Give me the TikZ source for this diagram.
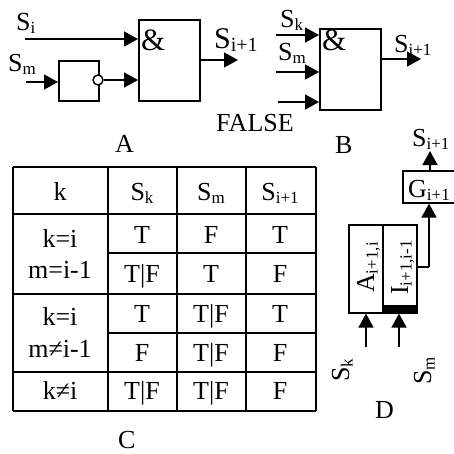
\documentclass[tikz,border=0pt]{standalone}
\usepackage{fontspec}
\setmainfont{Liberation Serif}
\usetikzlibrary{arrows.meta,calc}
\newcommand\Sbb[1]{\raisebox{-3.5pt}{\fontsize{17}{17}\selectfont #1}}
\newcommand\Sv[1]{S\Sbb{#1}}
\tikzset{
  lbl/.style={inner sep=0pt,anchor=base west,font=\fontsize{26}{26}\selectfont},
  cell/.style={inner sep=0pt,anchor=base,font=\fontsize{26}{26}\selectfont},
  amp/.style={inner sep=0pt,anchor=base west,font=\fontsize{31}{31}\selectfont},
  boxn/.style={draw=black,line width=1.6pt,inner sep=0pt,anchor=north west,fill=white},
  wire/.style={line width=1.6pt,-{Triangle[length=14pt,width=15pt]},shorten >=0pt},
  plain/.style={line width=1.6pt},
  grid/.style={line width=2pt}
}
\begin{document}
\begin{tikzpicture}[x=1pt,y=-1pt]
\useasboundingbox (0,0) rectangle (454,453);
% Part A
\node[boxn,minimum width=61pt,minimum height=81pt] (ga) at (138,19) {};
\node[boxn,minimum width=40pt,minimum height=40pt] (inv) at (58,60) {};
\node[circle,draw=black,fill=white,line width=1.4pt,minimum size=10pt,inner sep=0pt] (bub) at (98,80) {};
\coordinate (si) at (25,39);
\coordinate (sm) at (26,82);
\coordinate (aout) at (238,60);
\draw[wire] (si) -- (si -| ga.west);
\draw[wire] (sm) -- (sm -| inv.west);
\draw[wire] (bub.east) -- (bub.east -| ga.west);
\draw[wire] (aout -| ga.east) -- (aout);
\node[lbl] (tsi) at (16,30) {\Sv{i}};
\node[lbl] (tsm) at (8,71) {\Sv{m}};
\node[lbl,font=\fontsize{30}{30}\selectfont] (tso) at (214,48) {S\raisebox{-3.5pt}{\fontsize{20}{20}\selectfont i+1}};
\node[amp] (aa) at (141,50) {\&};
\node[lbl] (la) at (115,152) {A};
% Part B
\node[boxn,minimum width=61pt,minimum height=81pt] (gb) at (319,28) {};
\coordinate (b1) at (276,35);
\coordinate (b2) at (276,72);
\coordinate (b3) at (278,102);
\coordinate (bout) at (421,59);
\draw[wire] (b1) -- (b1 -| gb.west);
\draw[wire] (b2) -- (b2 -| gb.west);
\draw[wire] (b3) -- (b3 -| gb.west);
\draw[wire] (bout -| gb.east) -- (bout);
\node[lbl] (tsk) at (280,27) {\Sv{k}};
\node[lbl] (tsmb) at (278,60) {\Sv{m}};
\node[lbl] (tsob) at (394,52) {\Sv{i+1}};
\node[amp] (ab) at (322,50) {\&};
\node[lbl] (false) at (216,131) {FALSE};
\node[lbl] (lb) at (335,153) {B};
% Part C
\foreach \x in {13,108,177,246,316} \draw[grid] (\x,167) -- (\x,411);
\foreach \y in {167,214,294,372,411} \draw[grid] (13,\y) -- (316,\y);
\foreach \y in {253,333} \draw[grid] (108,\y) -- (316,\y);
\node[cell] (c0) at (60,200) {k};
\node[cell] (c1) at (142,200) {\Sv{k}};
\node[cell] (c2) at (211,200) {\Sv{m}};
\node[cell] (c3) at (280,200) {\Sv{i+1}};
\node[cell] (l1) at (60,247) {k=i};
\node[cell] (l2) at (60,278) {m=i-1};
\node[cell] (l3) at (60,325) {k=i};
\node[cell] (l4) at (60,357) {m≠i-1};
\node[cell] (l5) at (60,399) {k≠i};
\node[cell] (r11) at (142,243) {T};
\node[cell] (r12) at (211,243) {F};
\node[cell] (r13) at (280,243) {T};
\node[cell] (r21) at (142,282) {T|F};
\node[cell] (r22) at (211,282) {T};
\node[cell] (r23) at (280,282) {F};
\node[cell] (r31) at (142,322) {T};
\node[cell] (r32) at (211,322) {T|F};
\node[cell] (r33) at (280,322) {T};
\node[cell] (r41) at (142,361) {F};
\node[cell] (r42) at (211,361) {T|F};
\node[cell] (r43) at (280,361) {F};
\node[cell] (r51) at (142,399) {T|F};
\node[cell] (r52) at (211,399) {T|F};
\node[cell] (r53) at (280,399) {F};
\node[lbl] (lc) at (118,448) {C};
% Part D
\node[boxn,minimum width=34pt,minimum height=88pt] (ba) at (348,224) {};
\node[boxn,minimum width=34pt,minimum height=88pt] (bi) at (382,224) {};
\fill (382,305) rectangle (416,313);
\node[boxn,minimum width=53pt,minimum height=32pt] (bg) at (402,170) {};
\coordinate (d1) at (366,347);
\coordinate (d2) at (399,347);
\coordinate (gtop) at (430,151);
\coordinate (elbow) at (429,267);
\draw[wire] (d1) -- (d1 |- ba.south);
\draw[wire] (d2) -- (d2 |- bi.south);
\draw[plain] (elbow -| bi.east) -- (elbow);
\draw[wire] (elbow) -- (elbow |- bg.south);
\draw[wire] (gtop |- bg.north) -- (gtop);
\node[lbl,rotate=90] (ta) at (374,293) {A\Sbb{i+1,i}};
\node[lbl,rotate=90] (ti) at (408,295) {I\Sbb{i+1,i-1}};
\node[lbl] (tg) at (408,197) {G\Sbb{i+1}};
\node[lbl] (tsg) at (412,146) {\Sv{i+1}};
\node[lbl,rotate=90] (rsk) at (349,382) {\Sv{k}};
\node[lbl,rotate=90] (rsm) at (431,385) {\Sv{m}};
\node[lbl] (ld) at (375,418) {D};
\end{tikzpicture}
\end{document}
